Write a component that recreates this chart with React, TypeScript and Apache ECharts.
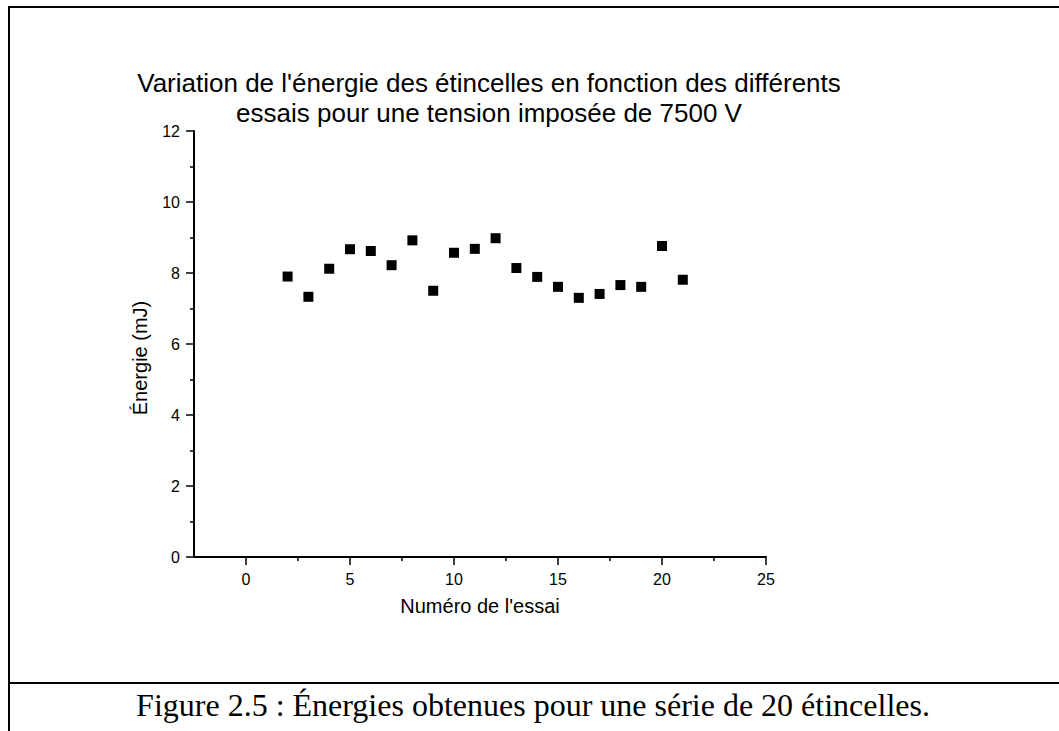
import React, { useEffect, useRef } from "react";
import * as echarts from "echarts";

const SANS = "'Liberation Sans', Arial, sans-serif";
const SERIF = "'Liberation Serif', 'Times New Roman', serif";

const TITLE_LINES = [
  "Variation de l'énergie des étincelles en fonction des différents",
  "essais pour une tension imposée de 7500 V",
];
const X_NAME = "Numéro de l'essai";
const Y_NAME = "Énergie (mJ)";
const CAPTION = "Figure 2.5 : Énergies obtenues pour une série de 20 étincelles.";

const ESSAIS = [2, 3, 4, 5, 6, 7, 8, 9, 10, 11, 12, 13, 14, 15, 16, 17, 18, 19, 20, 21];
const ENERGIES = [7.9, 7.33, 8.12, 8.67, 8.62, 8.22, 8.92, 7.5, 8.57, 8.68, 8.98, 8.14, 7.89, 7.61, 7.3, 7.41, 7.66, 7.61, 8.76, 7.81];

const X_MAJOR = [0, 5, 10, 15, 20, 25];
const X_MINOR = [2.5, 7.5, 12.5, 17.5, 22.5];

export default function App() {
  const ref = useRef<HTMLDivElement>(null);
  useEffect(() => {
    if (!ref.current) return;
    const chart = echarts.init(ref.current, null, { renderer: "svg" });
    const black = "#000";
    chart.setOption({
      animation: false,
      backgroundColor: "#fff",
      textStyle: { fontFamily: SANS },
      title: {
        text: TITLE_LINES.join("\n"),
        left: 484,
        top: 63,
        textAlign: "center",
        textStyle: { fontSize: 26, fontWeight: "normal", lineHeight: 30, color: black, fontFamily: SANS },
      },
      grid: { left: 194, right: 293, top: 131, bottom: 174 },
      xAxis: [
        {
          type: "value",
          min: -2.5,
          max: 25,
          position: "bottom",
          axisLine: { show: true, onZero: false, lineStyle: { color: black, width: 2 } },
          axisTick: { show: true, customValues: X_MAJOR, length: 8, lineStyle: { color: black, width: 1.5 } },
          axisLabel: { customValues: X_MAJOR, margin: 14, fontSize: 16, color: black, fontFamily: SANS },
          splitLine: { show: false },
          name: X_NAME,
          nameLocation: "middle",
          nameGap: 39,
          nameTextStyle: { fontSize: 20, color: black, fontFamily: SANS },
        },
        {
          type: "value",
          min: -2.5,
          max: 25,
          position: "bottom",
          axisLine: { show: false },
          axisTick: { show: true, customValues: X_MINOR, length: 4, lineStyle: { color: black, width: 1.5 } },
          axisLabel: { show: false },
          splitLine: { show: false },
        },
      ],
      yAxis: {
        type: "value",
        min: 0,
        max: 12,
        interval: 2,
        axisLine: { show: true, onZero: false, lineStyle: { color: black, width: 2 } },
        axisTick: { show: true, length: 8, lineStyle: { color: black, width: 1.5 } },
        minorTick: { show: true, splitNumber: 2, length: 4, lineStyle: { color: black, width: 1.5 } },
        axisLabel: { margin: 14, fontSize: 16, color: black, fontFamily: SANS },
        splitLine: { show: false },
        name: Y_NAME,
        nameLocation: "middle",
        nameGap: 44,
        nameTextStyle: { fontSize: 20, color: black, fontFamily: SANS, padding: [0, 28, 0, 0] },
      },
      series: [
        {
          type: "scatter",
          xAxisIndex: 0,
          symbol: "rect",
          symbolSize: 10,
          itemStyle: { color: black, opacity: 1 },
          data: ESSAIS.map((x, i) => [x, ENERGIES[i]]),
        },
      ],
      graphic: [
        { type: "line", shape: { x1: 9, y1: 6, x2: 9, y2: 731 }, style: { stroke: black, lineWidth: 2 } },
        { type: "line", shape: { x1: 8, y1: 7, x2: 1059, y2: 7 }, style: { stroke: black, lineWidth: 2 } },
        { type: "line", shape: { x1: 8, y1: 683, x2: 1059, y2: 683 }, style: { stroke: black, lineWidth: 2 } },
        {
          type: "text",
          x: 533,
          y: 705,
          style: {
            text: CAPTION,
            fontFamily: SERIF,
            fontSize: 32,
            fill: black,
            textAlign: "center",
            textVerticalAlign: "middle",
          },
        },
      ],
    });
    return () => chart.dispose();
  }, []);
  return (
    <div
      ref={ref}
      style={{ position: "absolute", left: 0, top: 0, width: 1059, height: 731, background: "#fff" }}
    />
  );
}
